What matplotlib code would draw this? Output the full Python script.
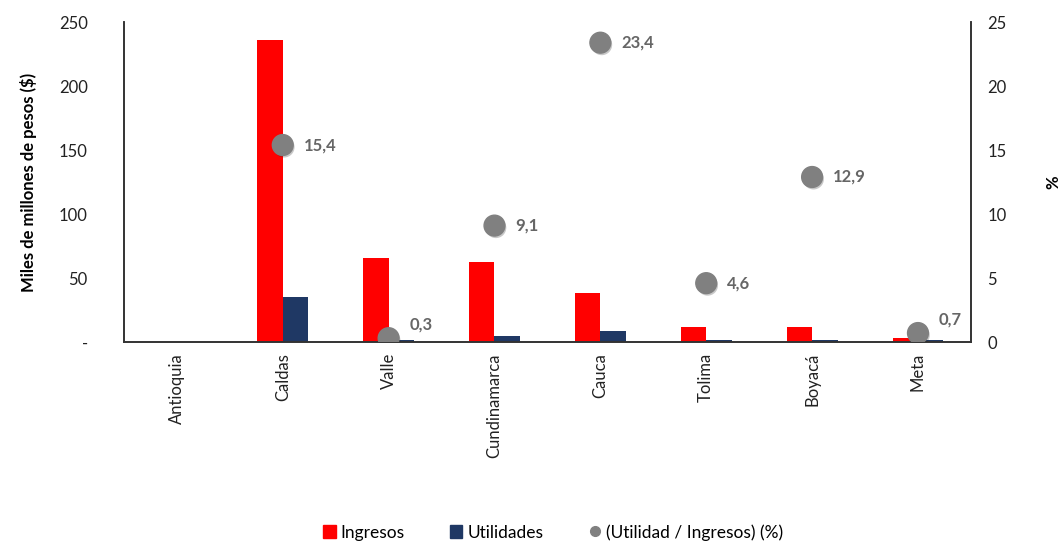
import matplotlib
matplotlib.use("Agg")
import matplotlib.pyplot as plt
import matplotlib.patheffects as pe
from matplotlib.lines import Line2D
from matplotlib.patches import Patch
import numpy as np

plt.rcParams['font.family'] = ['Lato', 'DejaVu Sans']

departamentos = ["Antioquia", "Caldas", "Valle", "Cundinamarca", "Cauca",
                 "Tolima", "Boyacá", "Meta"]
ingresos = [0, 236, 65.6, 62.5, 38.3, 11.7, 11.7, 3.0]
utilidades = [0, 35, 1.5, 4.5, 8.6, 1.3, 1.4, 1.2]
margen = [None, 15.4, 0.3, 9.1, 23.4, 4.6, 12.9, 0.7]

rojo = "#FF0000"
azul = "#1F3864"
gris = "#808080"

fig = plt.figure(figsize=(10.64, 5.42), dpi=100)
ax = fig.add_axes([0.1165, 0.369, 0.796, 0.590])
ax2 = ax.twinx()

x = np.arange(len(departamentos))
w = 0.24
ax.bar(x - w / 2, ingresos, w, color=rojo, zorder=2)
ax.bar(x + w / 2, utilidades, w, color=azul, zorder=2)

ax.set_xlim(-0.5, len(departamentos) - 0.5)
ax.set_ylim(0, 250)
ax.set_yticks([0, 50, 100, 150, 200, 250])
ax.set_yticklabels(["-", "50", "100", "150", "200", "250"])
ax.set_xticks(x)
ax.set_xticklabels(departamentos, rotation=90)
ax.set_ylabel("Miles de millones de pesos ($)", fontsize=12, fontweight="bold",
              labelpad=16)

ax2.set_ylim(0, 25)
ax2.set_yticks([0, 5, 10, 15, 20, 25])
ax2.set_ylabel("%", fontsize=12, fontweight="bold", labelpad=28)

# puntos de margen con su etiqueta
xm = [i for i, m in enumerate(margen) if m is not None]
ym = [m for m in margen if m is not None]
ax2.plot(xm, ym, linestyle="none", marker="o", markersize=15, color=gris,
         zorder=5,
         path_effects=[pe.SimplePatchShadow(offset=(1, -1.5), alpha=0.25),
                       pe.Normal()])
for xi, yi in zip(xm, ym):
    # los valores pegados al eje van un poco más arriba
    dy = 10 if yi < 1 else 0
    ax2.annotate(f"{yi:.1f}".replace(".", ","), (xi, yi), xytext=(15, dy),
                 textcoords="offset points", va="center", ha="left",
                 fontsize=12, fontweight="bold", color="#666666",
                 annotation_clip=False)

for a in (ax, ax2):
    a.spines["top"].set_visible(False)
    for s in ("left", "right", "bottom"):
        a.spines[s].set_color("#333333")
        a.spines[s].set_linewidth(1.2)
    a.tick_params(length=0, labelsize=12, colors="#222222")
ax.tick_params(axis="y", pad=26)
ax2.tick_params(axis="y", pad=12)
ax.tick_params(axis="x", pad=8)

handles = [Patch(color=rojo, label="Ingresos"),
           Patch(color=azul, label="Utilidades"),
           Line2D([], [], linestyle="none", marker="o", markersize=7,
                  color=gris, label="(Utilidad / Ingresos) (%)")]
fig.legend(handles=handles, loc="center", bbox_to_anchor=(0.52, 0.018),
           ncol=3, frameon=False, fontsize=12.5, handlelength=0.7,
           handleheight=0.7, handletextpad=0.3, columnspacing=2.6)

fig.savefig("out.png", dpi=100)
